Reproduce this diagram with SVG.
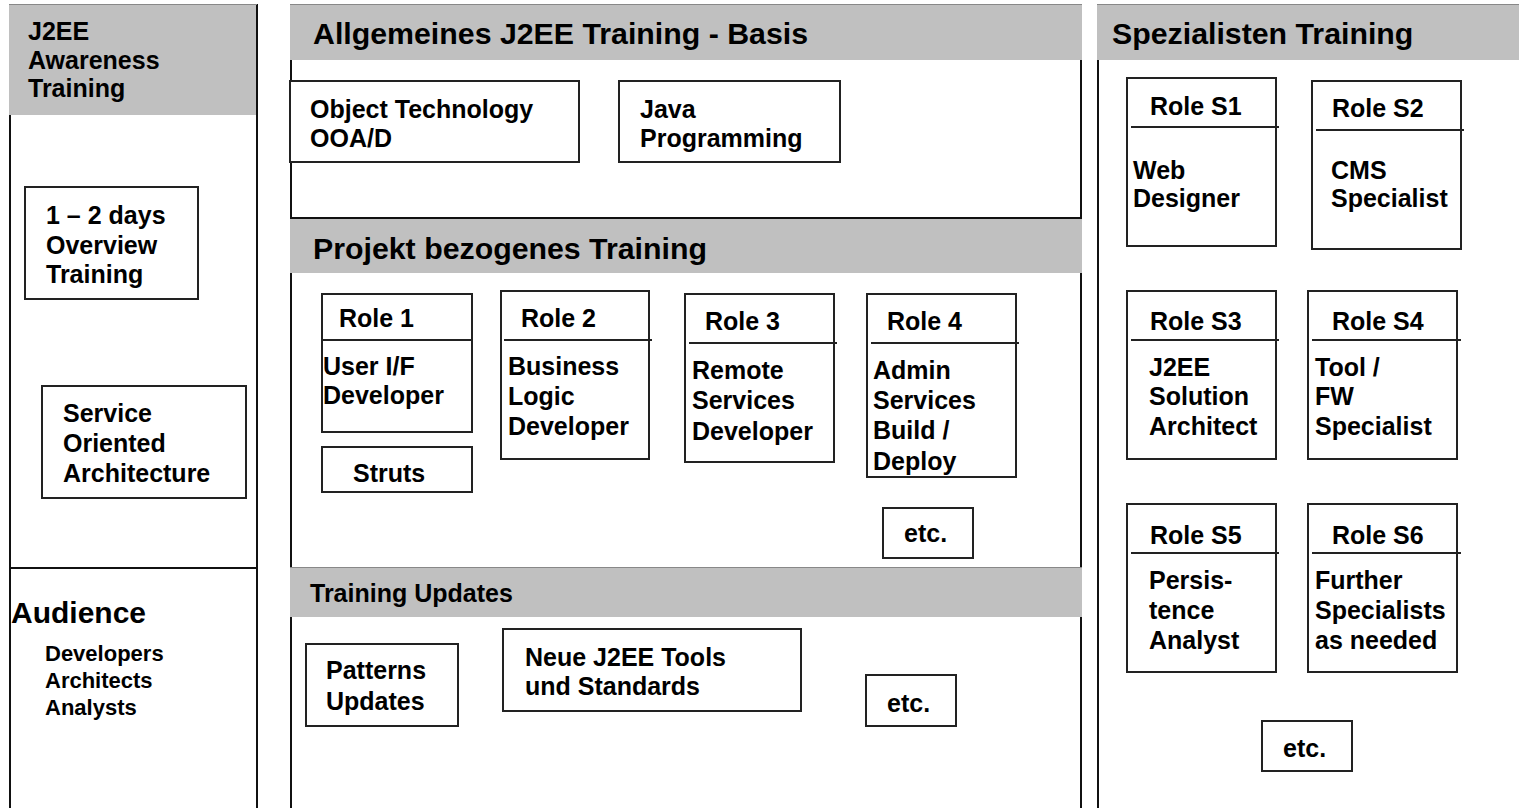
<svg xmlns="http://www.w3.org/2000/svg" width="1519" height="808" viewBox="0 0 1519 808">
<style>
text{font-family:"Liberation Sans",Arial,sans-serif;font-weight:bold;fill:#000}
.h{font-size:30.3px}
.t{font-size:25px}
.s{font-size:22px}
.a{font-size:30px}
.bar{fill:#c0c0c0;stroke:none}
.pl{stroke:#111;stroke-width:2;fill:none}
.bx{fill:#fff;stroke:#222;stroke-width:2}
.dv{stroke:#222;stroke-width:2}
.tl{stroke:#888;stroke-width:1}
</style>
<rect width="1519" height="808" fill="#fff"/>
<g id="panel-awareness">
<line class="pl" x1="10" y1="4" x2="10" y2="808"/>
<line class="pl" x1="257" y1="4" x2="257" y2="808"/>
<rect class="bar" x="9" y="4" width="247" height="111"/>
<line class="tl" x1="9" y1="4.5" x2="257" y2="4.5"/>
<line class="pl" x1="10" y1="568" x2="257" y2="568"/>
<text class="t" x="28" y="40">J2EE</text>
<text class="t" x="28" y="69">Awareness</text>
<text class="t" x="28" y="97">Training</text>
<text class="a" x="11" y="623">Audience</text>
<text class="s" x="45" y="661">Developers</text>
<text class="s" x="45" y="688">Architects</text>
<text class="s" x="45" y="715">Analysts</text>
</g>
<g id="box-overview">
<rect class="bx" x="25" y="187" width="173" height="112"/>
<text class="t" x="46" y="224">1 – 2 days</text>
<text class="t" x="46" y="254">Overview</text>
<text class="t" x="46" y="283">Training</text>
</g>
<g id="box-soa">
<rect class="bx" x="42" y="386" width="204" height="112"/>
<text class="t" x="63" y="422">Service</text>
<text class="t" x="63" y="452">Oriented</text>
<text class="t" x="63" y="482">Architecture</text>
</g>
<g id="panel-basis">
<line class="pl" x1="291" y1="4" x2="291" y2="808"/>
<line class="pl" x1="1081" y1="4" x2="1081" y2="808"/>
<line class="pl" x1="290" y1="218" x2="1082" y2="218"/>
<rect class="bar" x="290" y="4" width="792" height="56"/>
<rect class="bar" x="290" y="219" width="792" height="54"/>
<rect class="bar" x="290" y="567" width="792" height="50"/>
<line class="tl" x1="290" y1="4.5" x2="1082" y2="4.5"/>
<line class="tl" x1="290" y1="567.5" x2="1082" y2="567.5"/>
<text class="h" x="313" y="44">Allgemeines J2EE Training - Basis</text>
<text class="h" x="313" y="259">Projekt bezogenes Training</text>
<text class="t" x="310" y="602">Training Updates</text>
</g>
<g id="box-oot">
<rect class="bx" x="290" y="81" width="289" height="81"/>
<text class="t" x="310" y="118">Object Technology</text>
<text class="t" x="310" y="147">OOA/D</text>
</g>
<g id="box-java">
<rect class="bx" x="619" y="81" width="221" height="81"/>
<text class="t" x="640" y="118">Java</text>
<text class="t" x="640" y="147">Programming</text>
</g>
<g id="role1">
<rect class="bx" x="322" y="294" width="150" height="138"/>
<line class="dv" x1="322" y1="340" x2="472" y2="340"/>
<text class="t" x="339" y="327">Role 1</text>
<text class="t" x="323" y="375">User I/F</text>
<text class="t" x="323" y="404">Developer</text>
</g>
<g id="box-struts">
<rect class="bx" x="322" y="447" width="150" height="45"/>
<text class="t" x="353" y="482">Struts</text>
</g>
<g id="role2">
<rect class="bx" x="501" y="291" width="148" height="168"/>
<line class="dv" x1="504" y1="340" x2="652" y2="340"/>
<text class="t" x="521" y="327">Role 2</text>
<text class="t" x="508" y="375">Business</text>
<text class="t" x="508" y="405">Logic</text>
<text class="t" x="508" y="435">Developer</text>
</g>
<g id="role3">
<rect class="bx" x="685" y="294" width="149" height="168"/>
<line class="dv" x1="689" y1="343" x2="837" y2="343"/>
<text class="t" x="705" y="330">Role 3</text>
<text class="t" x="692" y="379">Remote</text>
<text class="t" x="692" y="409">Services</text>
<text class="t" x="692" y="440">Developer</text>
</g>
<g id="role4">
<rect class="bx" x="867" y="294" width="149" height="183"/>
<line class="dv" x1="871" y1="343" x2="1019" y2="343"/>
<text class="t" x="887" y="330">Role 4</text>
<text class="t" x="873" y="379">Admin</text>
<text class="t" x="873" y="409">Services</text>
<text class="t" x="873" y="439">Build /</text>
<text class="t" x="873" y="470">Deploy</text>
</g>
<g id="etc-roles">
<rect class="bx" x="883" y="508" width="90" height="50"/>
<text class="t" x="904" y="542">etc.</text>
</g>
<g id="box-patterns">
<rect class="bx" x="306" y="644" width="152" height="82"/>
<text class="t" x="326" y="679">Patterns</text>
<text class="t" x="326" y="710">Updates</text>
</g>
<g id="box-tools">
<rect class="bx" x="503" y="629" width="298" height="82"/>
<text class="t" x="525" y="666">Neue J2EE Tools</text>
<text class="t" x="525" y="695">und Standards</text>
</g>
<g id="etc-updates">
<rect class="bx" x="866" y="675" width="90" height="51"/>
<text class="t" x="887" y="712">etc.</text>
</g>
<g id="panel-spezialisten">
<line class="pl" x1="1098" y1="4" x2="1098" y2="808"/>
<rect class="bar" x="1097" y="4" width="422" height="56"/>
<line class="tl" x1="1097" y1="4.5" x2="1519" y2="4.5"/>
<text class="h" x="1112" y="44">Spezialisten Training</text>
</g>
<g id="roleS1">
<rect class="bx" x="1127" y="78" width="149" height="168"/>
<line class="dv" x1="1131" y1="127" x2="1279" y2="127"/>
<text class="t" x="1150" y="115">Role S1</text>
<text class="t" x="1133" y="179">Web</text>
<text class="t" x="1133" y="207">Designer</text>
</g>
<g id="roleS2">
<rect class="bx" x="1312" y="81" width="149" height="168"/>
<line class="dv" x1="1316" y1="130" x2="1464" y2="130"/>
<text class="t" x="1332" y="117">Role S2</text>
<text class="t" x="1331" y="179">CMS</text>
<text class="t" x="1331" y="207">Specialist</text>
</g>
<g id="roleS3">
<rect class="bx" x="1127" y="291" width="149" height="168"/>
<line class="dv" x1="1131" y1="340" x2="1279" y2="340"/>
<text class="t" x="1150" y="330">Role S3</text>
<text class="t" x="1149" y="376">J2EE</text>
<text class="t" x="1149" y="405">Solution</text>
<text class="t" x="1149" y="435">Architect</text>
</g>
<g id="roleS4">
<rect class="bx" x="1308" y="291" width="149" height="168"/>
<line class="dv" x1="1312" y1="340" x2="1461" y2="340"/>
<text class="t" x="1332" y="330">Role S4</text>
<text class="t" x="1315" y="376">Tool /</text>
<text class="t" x="1315" y="405">FW</text>
<text class="t" x="1315" y="435">Specialist</text>
</g>
<g id="roleS5">
<rect class="bx" x="1127" y="504" width="149" height="168"/>
<line class="dv" x1="1131" y1="553" x2="1279" y2="553"/>
<text class="t" x="1150" y="544">Role S5</text>
<text class="t" x="1149" y="589">Persis-</text>
<text class="t" x="1149" y="619">tence</text>
<text class="t" x="1149" y="649">Analyst</text>
</g>
<g id="roleS6">
<rect class="bx" x="1308" y="504" width="149" height="168"/>
<line class="dv" x1="1312" y1="553" x2="1461" y2="553"/>
<text class="t" x="1332" y="544">Role S6</text>
<text class="t" x="1315" y="589">Further</text>
<text class="t" x="1315" y="619">Specialists</text>
<text class="t" x="1315" y="649">as needed</text>
</g>
<g id="etc-spezialisten">
<rect class="bx" x="1262" y="721" width="90" height="50"/>
<text class="t" x="1283" y="757">etc.</text>
</g>
<g id="connectors"></g>
</svg>
